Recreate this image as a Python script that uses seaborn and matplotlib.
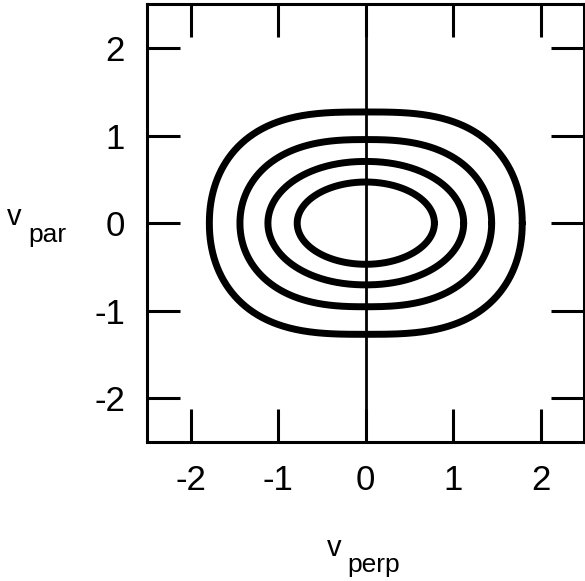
import numpy as np
import pandas as pd
import matplotlib.pyplot as plt
import seaborn as sns

# --- contour shapes ---
levels = ['c1', 'c2', 'c3', 'c4']
vperp_half = [1.79, 1.44, 1.12, 0.785]
vpar_half = [1.27, 0.955, 0.705, 0.47]
top_flatness = [3.0, 2.6, 2.1, 2.0]    # exponent on vperp
side_round = [2.1, 2.05, 2.0, 2.0]     # exponent on vpar

ticks = [-2, -1, 0, 1, 2]
tick_labels = ['-2', '-1', '0', '1', '2']

# closed outlines |x/a|^q + |y/b|^p = 1
t = np.linspace(0, 2 * np.pi, 721)
rows = []
for lev, a, b, q, p in zip(levels, vperp_half, vpar_half, top_flatness, side_round):
    c, s = np.cos(t), np.sin(t)
    x = a * np.sign(c) * np.abs(c) ** (2 / q)
    y = b * np.sign(s) * np.abs(s) ** (2 / p)
    for i in range(len(t)):
        rows.append({'level': lev, 'vperp': x[i], 'vpar': y[i]})
df = pd.DataFrame(rows)

sns.set_theme(style="white")
plt.rcParams['font.family'] = ['Liberation Sans', 'DejaVu Sans']
plt.rcParams['text.color'] = 'black'
plt.rcParams['xtick.color'] = 'black'
plt.rcParams['ytick.color'] = 'black'
plt.rcParams['xtick.labelcolor'] = 'black'
plt.rcParams['ytick.labelcolor'] = 'black'

fig = plt.figure(figsize=(5.85, 5.81), dpi=100)
ax = fig.add_axes([147.3 / 585, 139 / 581, 437 / 585, 437.7 / 581])

sns.lineplot(data=df, x='vperp', y='vpar', units='level', estimator=None,
             sort=False, color='black', linewidth=5.0, ax=ax)
ax.axvline(0, color='black', linewidth=2.0, zorder=3)

ax.set_xlim(-2.5, 2.5)
ax.set_ylim(-2.5, 2.5)
ax.set_xticks(ticks)
ax.set_yticks(ticks)
ax.set_xticklabels(tick_labels)
ax.set_yticklabels(tick_labels)
ax.tick_params(direction='in', length=23.5, width=2.2, colors='black',
               labelsize=25, pad=16, top=True, right=True,
               bottom=True, left=True)
for sp in ax.spines.values():
    sp.set_color('black')
    sp.set_linewidth(2.2)
    sp.set_visible(True)
ax.set_xlabel('')
ax.set_ylabel('')

# axis labels: "v" with a same-size lowered suffix
W, H = 585, 581
fig.text(7 / W, 1 - 225 / H, 'v', fontsize=21, ha='left', va='baseline')
fig.text(28 / W, 1 - 242.5 / H, 'par', fontsize=19, ha='left', va='baseline')
fig.text(327 / W, 1 - 556.5 / H, 'v', fontsize=21, ha='left', va='baseline')
fig.text(347 / W, 1 - 572 / H, 'perp', fontsize=19, ha='left', va='baseline')

fig.savefig('out.png', dpi=100)
